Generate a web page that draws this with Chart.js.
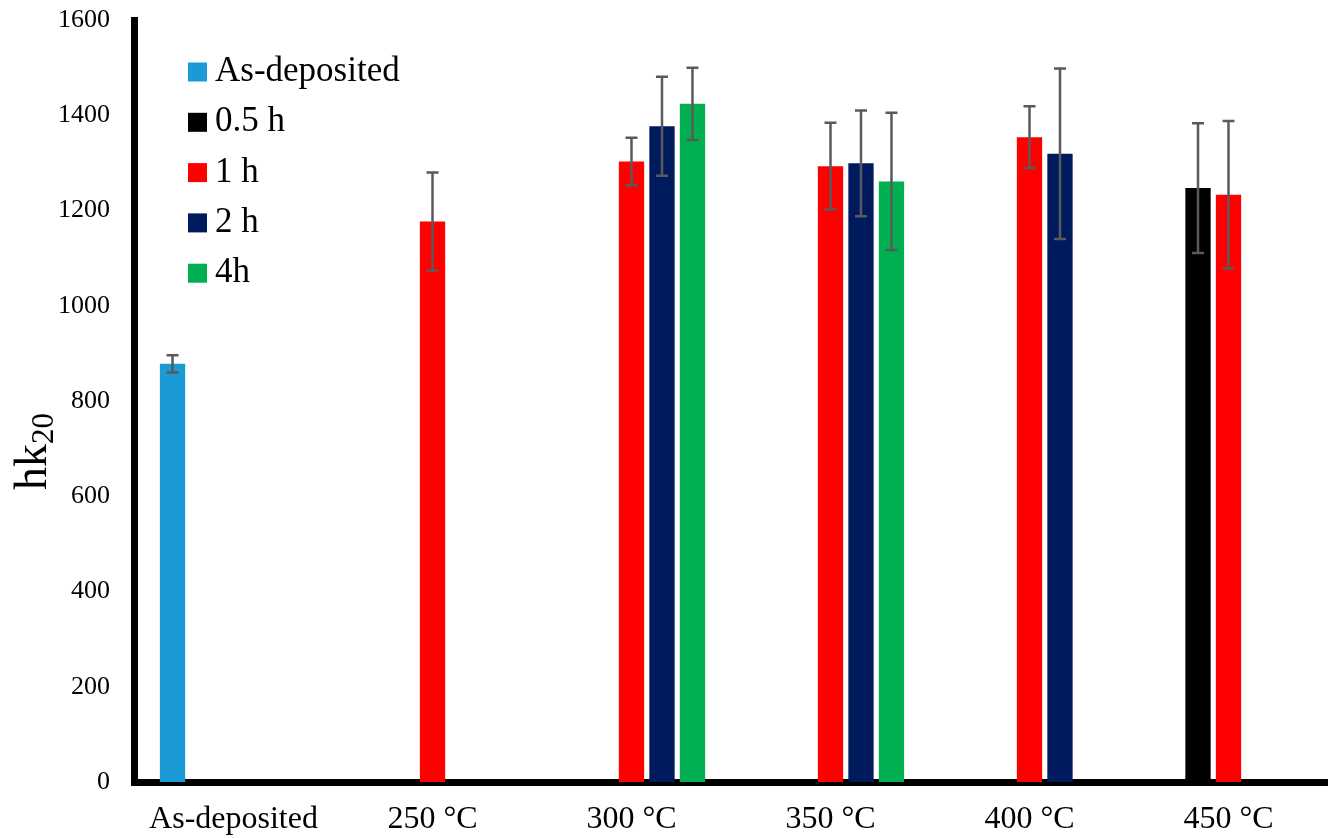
<!DOCTYPE html>
<html>
<head>
<meta charset="utf-8">
<script src="https://cdn.jsdelivr.net/npm/chart.js@4.4.1/dist/chart.umd.min.js"></script>
<style>
  html, body { margin: 0; padding: 0; background: #ffffff; }
  #wrap { width: 1328px; height: 838px; position: relative; }
</style>
</head>
<body>
<div id="wrap"><canvas id="c" width="1328" height="838"></canvas></div>
<script>
// Categories along the x axis
const categories = ['As-deposited', '250 °C', '300 °C', '350 °C', '400 °C', '450 °C'];

// Series names (annealing time)
const seriesNames = ['As-deposited', '0.5 h', '1 h', '2 h', '4h'];

// Mean hardness values per series (null = not measured)
const asDeposited = [878, null, null, null, null, null];
const halfHour    = [null, null, null, null, null, 1247];
const oneHour     = [null, 1177, 1303, 1293, 1354, 1233];
const twoHours    = [null, null, 1377, 1299, 1319, null];
const fourHours   = [null, null, 1424, 1261, null, null];

// Standard deviations (error bar half-lengths)
const asDepositedErr = [18, null, null, null, null, null];
const halfHourErr    = [null, null, null, null, null, 136];
const oneHourErr     = [null, 103, 50, 91, 65, 155];
const twoHoursErr    = [null, null, 104, 111, 179, null];
const fourHoursErr   = [null, null, 76, 144, null, null];

// Y axis range and tick step
const yMin = 0;
const yMax = 1600;
const yStep = 200;

const seriesColors = ['#1a9bd7', '#000000', '#ff0000', '#001a5e', '#00b050'];
const seriesValues = [asDeposited, halfHour, oneHour, twoHours, fourHours];
const seriesErrors = [asDepositedErr, halfHourErr, oneHourErr, twoHoursErr, fourHoursErr];

const FONT = "'Liberation Serif', 'Times New Roman', serif";

// Error bars with caps, drawn on top of the bars
const errorBars = {
  id: 'errorBars',
  afterDatasetsDraw(chart) {
    const ctx = chart.ctx;
    const y = chart.scales.y;
    ctx.save();
    ctx.strokeStyle = '#5a5a5a';
    ctx.lineWidth = 2.5;
    seriesValues.forEach((vals, i) => {
      const meta = chart.getDatasetMeta(i);
      vals.forEach((v, j) => {
        const e = seriesErrors[i][j];
        if (v == null || e == null) return;
        const bar = meta.data[j];
        if (!bar) return;
        const x = bar.x;
        const top = y.getPixelForValue(v + e);
        const bot = y.getPixelForValue(v - e);
        ctx.beginPath();
        ctx.moveTo(x, top); ctx.lineTo(x, bot);
        ctx.moveTo(x - 6, top); ctx.lineTo(x + 6, top);
        ctx.moveTo(x - 6, bot); ctx.lineTo(x + 6, bot);
        ctx.stroke();
      });
    });
    ctx.restore();
  }
};

// Vertical legend inside the plot area
const insideLegend = {
  id: 'insideLegend',
  afterDraw(chart) {
    const ctx = chart.ctx;
    ctx.save();
    ctx.font = '35px ' + FONT;
    ctx.textBaseline = 'middle';
    ctx.textAlign = 'left';
    seriesNames.forEach((name, i) => {
      const cy = 72 + i * 50.3;
      ctx.fillStyle = seriesColors[i];
      ctx.fillRect(188, cy - 9.5, 19, 19);
      ctx.fillStyle = '#000000';
      ctx.fillText(name, 215, cy);
    });
    ctx.restore();
  }
};

// Rotated y axis title with subscript
const yTitle = {
  id: 'yTitle',
  afterDraw(chart) {
    const ctx = chart.ctx;
    ctx.save();
    ctx.translate(46, 490);
    ctx.rotate(-Math.PI / 2);
    ctx.fillStyle = '#000000';
    ctx.textBaseline = 'alphabetic';
    ctx.textAlign = 'left';
    ctx.font = '46px ' + FONT;
    ctx.fillText('hk', 0, 0);
    const w = ctx.measureText('hk').width;
    ctx.font = '31px ' + FONT;
    ctx.fillText('20', w, 7);
    ctx.restore();
  }
};

new Chart(document.getElementById('c'), {
  type: 'bar',
  data: {
    labels: categories,
    datasets: seriesNames.map((name, i) => ({
      label: name,
      data: seriesValues[i],
      backgroundColor: seriesColors[i],
      borderWidth: 0,
      categoryPercentage: 0.766,
      barPercentage: 0.83
    }))
  },
  options: {
    responsive: false,
    animation: false,
    layout: { padding: { top: 20, right: 0, left: 0, bottom: 0 } },
    plugins: {
      legend: { display: false },
      tooltip: { enabled: false }
    },
    scales: {
      x: {
        grid: { display: false, drawTicks: false },
        border: { display: true, color: '#000000', width: 7 },
        ticks: {
          color: '#000000',
          font: { family: FONT, size: 32 },
          padding: 18,
          maxRotation: 0,
          autoSkip: false
        },
        afterFit(scale) {
          scale.height = 56;
          scale.paddingLeft = 0;
          scale.paddingRight = 0;
        }
      },
      y: {
        min: yMin,
        max: yMax,
        grid: { display: false, drawTicks: false },
        border: { display: true, color: '#000000', width: 7 },
        ticks: {
          stepSize: yStep,
          color: '#000000',
          font: { family: FONT, size: 26 },
          padding: 24,
          callback: (v) => String(v)
        },
        afterFit(scale) {
          scale.width = 134;
          scale.paddingTop = 0;
          scale.paddingBottom = 0;
        }
      }
    }
  },
  plugins: [errorBars, insideLegend, yTitle]
});
</script>
</body>
</html>
